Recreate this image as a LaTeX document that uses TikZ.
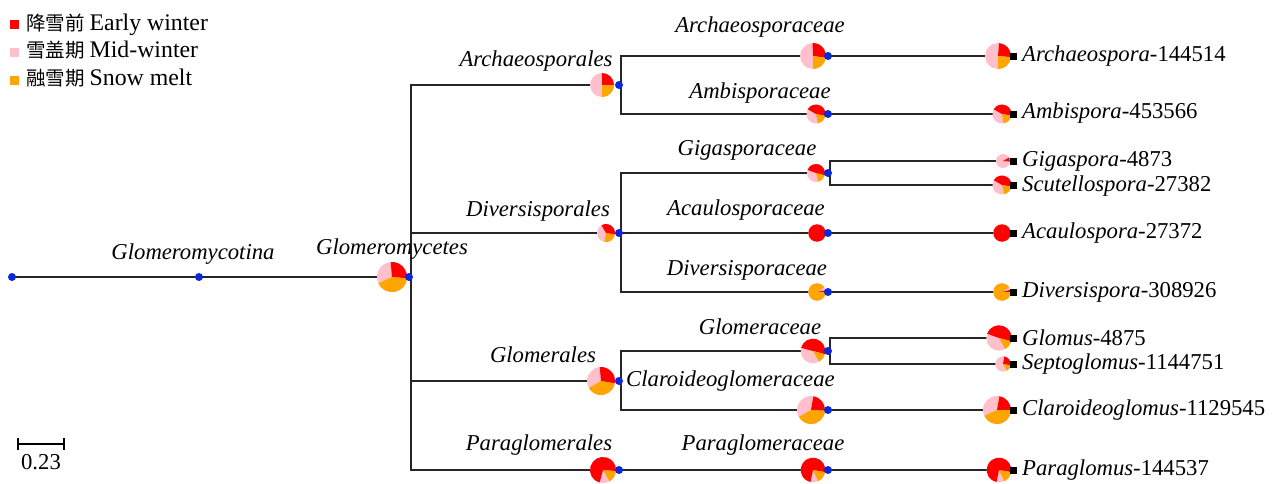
\documentclass[tikz,border=0pt]{standalone}
\usepackage{fontspec}
\usetikzlibrary{calc}
\setmainfont{Liberation Serif}
\newfontfamily\cjk{Noto Sans CJK SC}
\definecolor{cred}{RGB}{255,0,0}
\definecolor{cpink}{RGB}{255,192,203}
\definecolor{corange}{RGB}{255,165,0}
\definecolor{cblue}{RGB}{10,40,220}
\newcommand\pieat[5]{%
  \fill[cpink] (#1) circle[radius=#2pt];
  \fill[cred] (#1) -- ++(#3:#2pt) arc[start angle=#3, end angle=#4, radius=#2pt] -- cycle;
  \fill[corange] (#1) -- ++(#4:#2pt) arc[start angle=#4, end angle=#5, radius=#2pt] -- cycle;
}
\begin{document}
\begin{tikzpicture}[x=1pt,y=-1pt, font=\fontsize{22.7}{27}\selectfont,
  branch/.style={line width=1.3pt, black!85},
  dotn/.style={circle, fill=cblue, inner sep=0, minimum size=8pt},
  tipn/.style={fill=black, inner sep=0, minimum size=7pt},
  lab/.style={font=\fontsize{22.7}{27}\selectfont\itshape, inner sep=0},
  tiplab/.style={anchor=west, inner sep=0},
  legsq/.style={inner sep=0, minimum size=9pt},
  legtxt/.style={anchor=base west, inner sep=0, font=\fontsize{23.8}{28}\selectfont}]
\useasboundingbox (0,0) rectangle (1277,483);

% ---- coordinates ----
\coordinate (root) at (12,277);
\coordinate (sub) at (199,277);
\coordinate (pGm) at (392,277);
\coordinate (gm) at (411,277);
% orders
\coordinate (pA) at (602,85);   \coordinate (oA) at (621,85);
\coordinate (pD) at (606,233);  \coordinate (oD) at (621,233);
\coordinate (pG) at (601,381);  \coordinate (oG) at (621,381);
\coordinate (pP) at (603,470);  \coordinate (oP) at (621,470);
% families
\coordinate (pArc) at (813,56);  \coordinate (fArc) at (830,56);
\coordinate (pAmb) at (816,114); \coordinate (fAmb) at (830,114);
\coordinate (pGig) at (816,173); \coordinate (fGig) at (830,173);
\coordinate (pAca) at (817,233); \coordinate (fAca) at (830,233);
\coordinate (pDiv) at (817,292); \coordinate (fDiv) at (830,292);
\coordinate (pGlo) at (813,351); \coordinate (fGlo) at (830,351);
\coordinate (pCla) at (811,410); \coordinate (fCla) at (830,410);
\coordinate (pPar) at (813,470); \coordinate (fPar) at (830,470);
% genera
\coordinate (gArc) at (998,56);   \coordinate (tArc) at (1013,56);
\coordinate (gAmb) at (1002,114); \coordinate (tAmb) at (1013,114);
\coordinate (gGig) at (1003,161); \coordinate (tGig) at (1013,161);
\coordinate (gScu) at (1002,185); \coordinate (tScu) at (1013,185);
\coordinate (gAca) at (1002,233); \coordinate (tAca) at (1013,233);
\coordinate (gDiv) at (1002,292); \coordinate (tDiv) at (1013,292);
\coordinate (gGlo) at (999,338);  \coordinate (tGlo) at (1013,338);
\coordinate (gSep) at (1003,364); \coordinate (tSep) at (1013,364);
\coordinate (gCla) at (997,410);  \coordinate (tCla) at (1013,410);
\coordinate (gPar) at (999,470);  \coordinate (tPar) at (1013,470);

% ---- branches ----
\draw[branch] (root) -- (sub) -- (gm);
\draw[branch] (gm) |- (pA);
\draw[branch] (gm) |- (pD);
\draw[branch] (gm) |- (pG);
\draw[branch] (gm) |- (pP);
\draw[branch] (oA) |- (pArc); \draw[branch] (oA) |- (pAmb);
\draw[branch] (oD) |- (pGig); \draw[branch] (oD) -- (pAca); \draw[branch] (oD) |- (pDiv);
\draw[branch] (oG) |- (pGlo); \draw[branch] (oG) |- (pCla);
\draw[branch] (oP) -- (pPar);
\draw[branch] (fArc) -- (tArc);
\draw[branch] (fAmb) -- (tAmb);
\draw[branch] (fGig) |- (tGig); \draw[branch] (fGig) |- (tScu);
\draw[branch] (fAca) -- (tAca);
\draw[branch] (fDiv) -- (tDiv);
\draw[branch] (fGlo) |- (tGlo); \draw[branch] (fGlo) |- (tSep);
\draw[branch] (fCla) -- (tCla);
\draw[branch] (fPar) -- (tPar);

% ---- pies ----
\pieat{pGm}{15}{95}{-5}{-155}
\pieat{pA}{12}{90}{0}{-90}
\pieat{pD}{9}{120}{-10}{-100}
\pieat{pG}{14}{95}{-10}{-150}
\pieat{pP}{13}{255}{-5}{-60}
\pieat{pArc}{13}{92}{-8}{-90}
\pieat{pAmb}{9.5}{150}{-12}{-78}
\pieat{pGig}{9}{160}{-15}{-75}
\pieat{pAca}{8.7}{90}{-270}{-270}
\pieat{pDiv}{8.7}{12}{-3}{-325}
\pieat{pGlo}{12.3}{165}{-15}{-60}
\pieat{pCla}{14}{80}{-3}{-150}
\pieat{pPar}{12.3}{258}{-10}{-65}
\pieat{gArc}{13}{85}{-5}{-90}
\pieat{gAmb}{9.5}{150}{-10}{-80}
\pieat{gGig}{7}{30}{-5}{-5}
\pieat{gScu}{9.5}{150}{-10}{-75}
\pieat{gAca}{8.7}{90}{-270}{-270}
\pieat{gDiv}{8.7}{15}{0}{-325}
\pieat{gGlo}{12.7}{160}{-15}{-60}
\pieat{gSep}{7.7}{80}{-10}{-60}
\pieat{gCla}{14}{80}{0}{-155}
\pieat{gPar}{12.3}{258}{-10}{-65}

% ---- dots ----
\node[dotn] (droot) at (root) {};
\node[dotn] (dsub) at (sub) {};
\node[dotn] (dgm) at ($(gm)+(-2,0)$) {};
\foreach \o in {A,D,G,P}{\node[dotn] (do\o) at ($(o\o)+(-2,0)$) {};}
\foreach \f in {Arc,Amb,Gig,Aca,Div,Glo,Cla,Par}{\node[dotn] (df\f) at ($(f\f)+(-2,0)$) {};}
\foreach \t in {Arc,Amb,Gig,Scu,Aca,Div,Glo,Sep,Cla,Par}{\node[tipn] (nt\t) at (t\t) {};}

% ---- internal labels ----
\node[lab] (lSub) at (193,254) {Glomeromycotina};
\node[lab] (lGm) at (392,249) {Glomeromycetes};
\node[lab] (lA) at (536,61) {Archaeosporales};
\node[lab] (lD) at (538,211) {Diversisporales};
\node[lab] (lG) at (543,355) {Glomerales};
\node[lab] (lP) at (539,445) {Paraglomerales};
\node[lab] (lArc) at (760,27) {Archaeosporaceae};
\node[lab] (lAmb) at (760,93) {Ambisporaceae};
\node[lab] (lGig) at (747,150) {Gigasporaceae};
\node[lab] (lAca) at (746,210) {Acaulosporaceae};
\node[lab] (lDiv) at (747,270) {Diversisporaceae};
\node[lab] (lGlo) at (760,327) {Glomeraceae};
\node[lab,anchor=west] (lCla) at (626,381) {Claroideoglomeraceae};
\node[lab] (lPar) at (763,445) {Paraglomeraceae};

% ---- tip labels ----
\node[tiplab] (xArc) at (1022,56) {\textit{Archaeospora}-144514};
\node[tiplab] (xAmb) at (1022,113) {\textit{Ambispora}-453566};
\node[tiplab] (xGig) at (1022,161) {\textit{Gigaspora}-4873};
\node[tiplab] (xScu) at (1022,186) {\textit{Scutellospora}-27382};
\node[tiplab] (xAca) at (1022,233) {\textit{Acaulospora}-27372};
\node[tiplab] (xDiv) at (1022,292) {\textit{Diversispora}-308926};
\node[tiplab] (xGlo) at (1022,338) {\textit{Glomus}-4875};
\node[tiplab] (xSep) at (1022,364) {\textit{Septoglomus}-1144751};
\node[tiplab] (xCla) at (1022,410) {\textit{Claroideoglomus}-1129545};
\node[tiplab] (xPar) at (1022,470) {\textit{Paraglomus}-144537};

% ---- legend ----
\node[legsq, fill=cred] (k1) at (14,24) {};
\node[legsq, fill=cpink] (k2) at (14,52) {};
\node[legsq, fill=corange] (k3) at (14,80) {};
\node[legtxt] (t1) at (26,30) {{\cjk\fontsize{19.5}{24}\selectfont 降雪前}\hspace{5pt}Early winter};
\node[legtxt] (t2) at (26,57.5) {{\cjk\fontsize{19.5}{24}\selectfont 雪盖期}\hspace{5pt}Mid-winter};
\node[legtxt] (t3) at (26,85) {{\cjk\fontsize{19.5}{24}\selectfont 融雪期}\hspace{5pt}Snow melt};

% ---- scale bar ----
\coordinate (s1) at (18,444);
\coordinate (s2) at (64,444);
\draw[line width=1.2pt] (s1) -- (s2);
\draw[line width=1.2pt] ($(s1)+(0,-6)$) -- ($(s1)+(0,6)$);
\draw[line width=1.2pt] ($(s2)+(0,-6)$) -- ($(s2)+(0,6)$);
\node[inner sep=0] (sl) at (41,462) {0.23};
\end{tikzpicture}
\end{document}
